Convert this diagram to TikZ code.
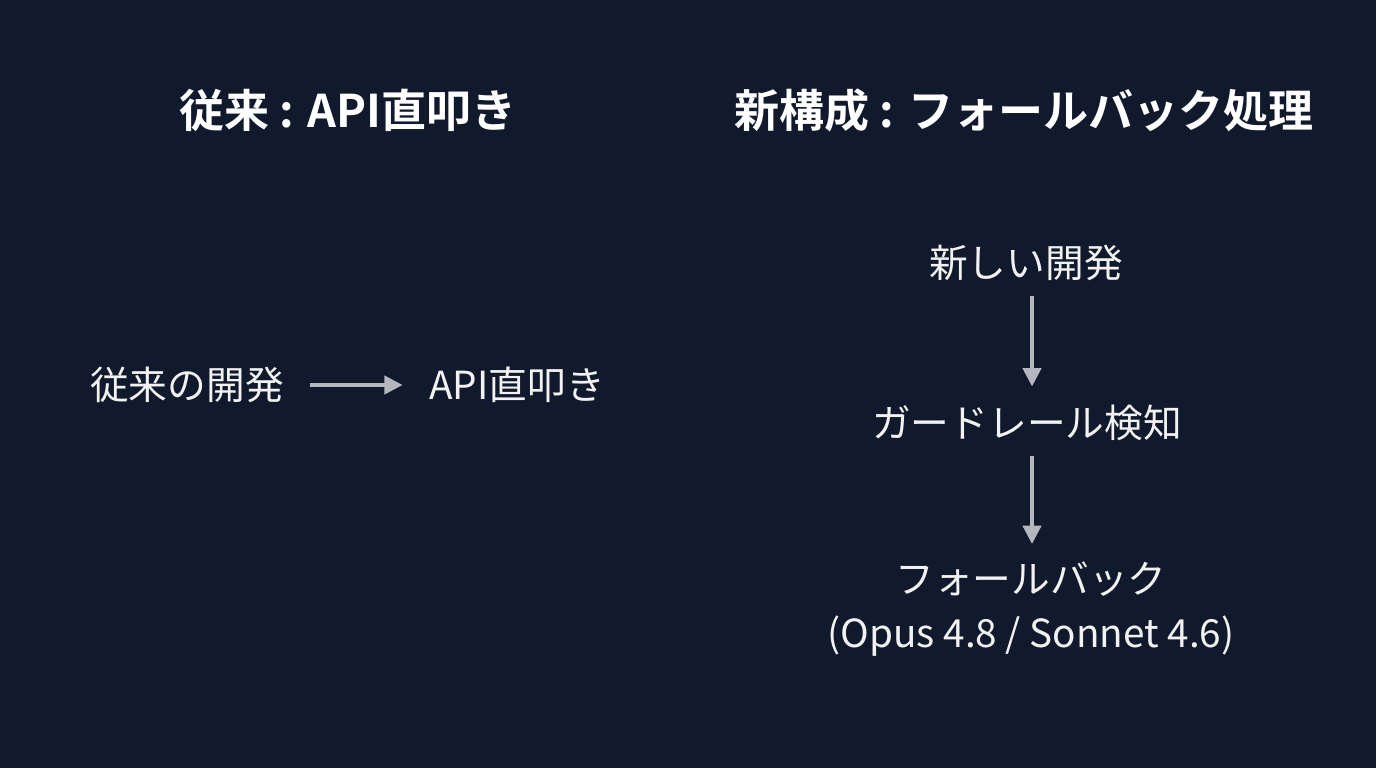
\documentclass[tikz,border=0pt]{standalone}
\usepackage{fontspec}
\setmainfont{Noto Sans CJK JP}[BoldFont=* Bold]
\usetikzlibrary{arrows.meta}
\definecolor{bg}{HTML}{111A2C}
\definecolor{txt}{HTML}{F2F2F2}
\definecolor{arr}{HTML}{B4B7BE}
\begin{document}
\begin{tikzpicture}[x=0.01cm,y=-0.01cm]
            \tikzstyle{every node}=[inner sep=0pt, text=txt, font=\fontsize{11}{15.4}\selectfont, align=center]
            \tikzstyle{title}=[font=\fontsize{12.8}{16}\selectfont\bfseries, text=white]
            \tikzstyle{edge}=[arr, line width=1pt, -{Triangle[length=5.2pt,width=5.2pt]}]

            \fill[bg] (0,0) rectangle (1376,768);
            \useasboundingbox (0,0) rectangle (1376,768);

            \node[title] (t1) at (348,110) {従来 : API直叩き};
            \node[title] (t2) at (1024,110) {新構成 : フォールバック処理};

            \node (old) at (187,385) {従来の開発};
            \node (api) at (517,385) {API直叩き};

            \node (new) at (1026,263) {新しい開発};
            \node (guard) at (1027,423) {ガードレール検知};
            \node (fb) at (1031,609) {フォールバック\\(Opus 4.8 / Sonnet 4.6)};

            \draw[edge, shorten <=0.26cm, shorten >=0.26cm] (old) -- (api);
            \draw[edge, shorten <=0.14cm, shorten >=0.18cm] (new.south -| 1032,0) -- (guard.north -| 1032,0);
            \draw[edge, shorten <=0.14cm, shorten >=0.17cm] (guard.south -| 1032,0) -- (fb.north -| 1032,0);
\end{tikzpicture}
\end{document}
